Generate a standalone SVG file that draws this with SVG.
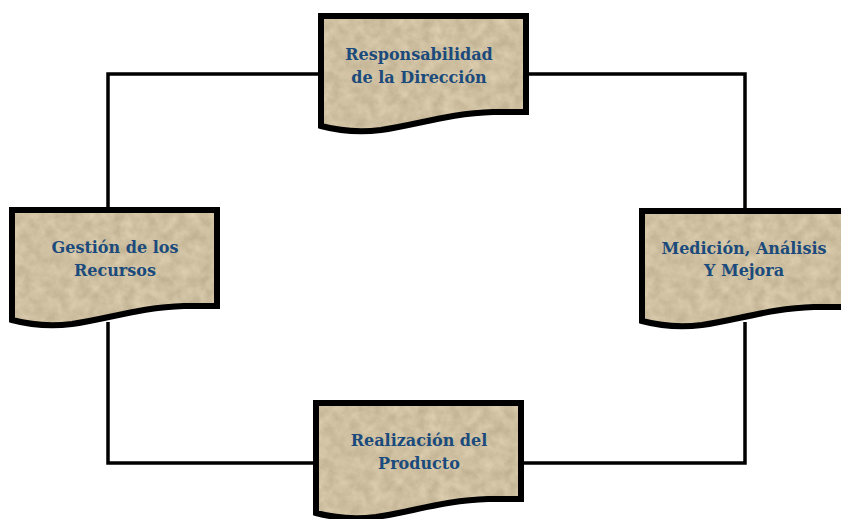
<svg xmlns="http://www.w3.org/2000/svg" width="841" height="519" viewBox="0 0 841 519">
<style>
.doc-fill{filter:url(#paper);}
.doc-line{fill:none;stroke:#000;stroke-width:6;stroke-linejoin:miter;}
.conn{fill:none;stroke:#000;stroke-width:3.5;}
.lbl{font-family:"DejaVu Serif","Liberation Serif",serif;font-weight:bold;font-size:16px;fill:#1b4a7c;text-anchor:middle;}
</style>
<defs>
<filter id="paper" x="0" y="0" width="1" height="1" color-interpolation-filters="sRGB">
<feTurbulence type="fractalNoise" baseFrequency="0.09" numOctaves="4" seed="7" result="n"/>
<feColorMatrix in="n" type="matrix" values="0.16 0 0 0 0.725  0.16 0 0 0 0.67  0.16 0 0 0 0.545  0 0 0 0 1" result="c"/>
<feComposite in="c" in2="SourceGraphic" operator="in"/>
</filter>
<path id="doc" d="M0,0 H205 V96 H172 C130,97 95,109 60,114 C35,117 15,114 0,110 Z"/>
</defs>
<rect width="841" height="519" fill="#fff"/>
<g id="connectors">
<polyline class="conn" points="321,74 108,74 108,210"/>
<polyline class="conn" points="524,74 745,74 745,211"/>
<polyline class="conn" points="108,322 108,463 316,463"/>
<polyline class="conn" points="745,322 745,463 521,463"/>
</g>
<g id="node-responsabilidad" transform="translate(321,16)">
<use href="#doc" class="doc-fill" fill="#cbbd9d"/>
<use href="#doc" class="doc-line"/>
<text class="lbl" x="98" y="44">Responsabilidad</text>
<text class="lbl" x="98" y="67">de la Dirección</text>
</g>
<g id="node-gestion" transform="translate(12,210)">
<use href="#doc" class="doc-fill" fill="#cbbd9d"/>
<use href="#doc" class="doc-line"/>
<text class="lbl" x="103" y="43">Gestión de los</text>
<text class="lbl" x="103" y="66">Recursos</text>
</g>
<g id="node-medicion" transform="translate(642,211)">
<use href="#doc" class="doc-fill" fill="#cbbd9d"/>
<use href="#doc" class="doc-line"/>
<text class="lbl" x="102" y="43">Medición, Análisis</text>
<text class="lbl" x="102" y="65">Y Mejora</text>
</g>
<g id="node-realizacion" transform="translate(316,403)">
<use href="#doc" class="doc-fill" fill="#cbbd9d"/>
<use href="#doc" class="doc-line"/>
<text class="lbl" x="103" y="43">Realización del</text>
<text class="lbl" x="103" y="66">Producto</text>
</g>
</svg>
